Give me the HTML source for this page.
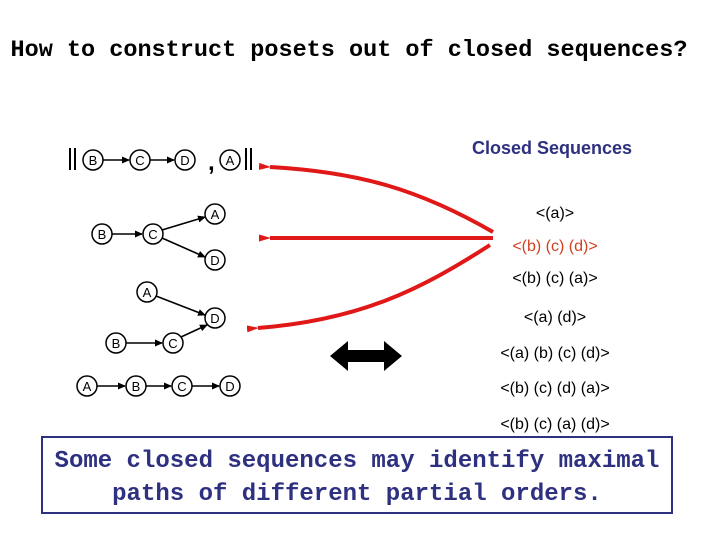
<!DOCTYPE html>
<html><head><meta charset="utf-8"><style>
html,body{margin:0;padding:0;background:#fff;}
svg{display:block}
</style></head><body>
<svg width="720" height="540" viewBox="0 0 720 540" xmlns="http://www.w3.org/2000/svg">
<defs>
<marker id="ab" markerWidth="8" markerHeight="8" refX="7" refY="4" orient="auto" markerUnits="userSpaceOnUse"><path d="M0,0.5 L8,4 L0,7.5z" fill="#000"/></marker>
<marker id="ar" markerWidth="12" markerHeight="8" refX="1" refY="4" orient="auto" markerUnits="userSpaceOnUse"><path d="M12,0.5 L0,4 L12,7.5z" fill="#e01818"/></marker>
</defs>
<text x="349" y="56" text-anchor="middle" font-family="Liberation Mono, monospace" font-weight="bold" font-size="23.5" fill="#000">How to construct posets out of closed sequences?</text>

<g font-family="Liberation Sans, sans-serif" font-size="13" text-anchor="middle" fill="#000">
<g stroke="#000" stroke-width="1.6" fill="none">
<line x1="103" y1="160" x2="129" y2="160" marker-end="url(#ab)"/>
<line x1="150" y1="160" x2="174" y2="160" marker-end="url(#ab)"/>
<line x1="112" y1="234" x2="142" y2="234" marker-end="url(#ab)"/>
<line x1="162" y1="230" x2="205" y2="217" marker-end="url(#ab)"/>
<line x1="162" y1="238" x2="205" y2="257" marker-end="url(#ab)"/>
<line x1="156" y1="296" x2="205" y2="315" marker-end="url(#ab)"/>
<line x1="126" y1="343" x2="162" y2="343" marker-end="url(#ab)"/>
<line x1="181" y1="337" x2="207" y2="325" marker-end="url(#ab)"/>
<line x1="97" y1="386" x2="125" y2="386" marker-end="url(#ab)"/>
<line x1="146" y1="386" x2="171" y2="386" marker-end="url(#ab)"/>
<line x1="192" y1="386" x2="219" y2="386" marker-end="url(#ab)"/>
</g>
<g stroke="#000" stroke-width="1.5" fill="#fff">
<circle cx="93" cy="160" r="10"/><circle cx="140" cy="160" r="10"/><circle cx="185" cy="160" r="10"/><circle cx="230" cy="160" r="10"/>
<circle cx="102" cy="234" r="10"/><circle cx="153" cy="234" r="10"/><circle cx="215" cy="214" r="10"/><circle cx="215" cy="260" r="10"/>
<circle cx="147" cy="292" r="10"/><circle cx="215" cy="318" r="10"/><circle cx="116" cy="343" r="10"/><circle cx="173" cy="343" r="10"/>
<circle cx="87" cy="386" r="10"/><circle cx="136" cy="386" r="10"/><circle cx="182" cy="386" r="10"/><circle cx="230" cy="386" r="10"/>
</g>
<text x="93" y="165">B</text><text x="140" y="165">C</text><text x="185" y="165">D</text><text x="230" y="165">A</text>
<text x="102" y="239">B</text><text x="153" y="239">C</text><text x="215" y="219">A</text><text x="215" y="265">D</text>
<text x="147" y="297">A</text><text x="215" y="323">D</text><text x="116" y="348">B</text><text x="173" y="348">C</text>
<text x="87" y="391">A</text><text x="136" y="391">B</text><text x="182" y="391">C</text><text x="230" y="391">D</text>
</g>
<g stroke="#000" stroke-width="2">
<line x1="70" y1="148" x2="70" y2="170"/><line x1="75" y1="148" x2="75" y2="170"/>
<line x1="246" y1="148" x2="246" y2="170"/><line x1="251" y1="148" x2="251" y2="170"/>
</g>
<text x="208" y="170" font-family="Liberation Sans, sans-serif" font-size="24" font-weight="bold">,</text>

<g stroke="#e01818" stroke-width="4" fill="none">
<path d="M493,232 C420,190 360,172 270,167" marker-end="url(#ar)"/>
<line x1="493" y1="238" x2="270" y2="238" marker-end="url(#ar)"/>
<path d="M490,245 C420,290 360,320 258,328" marker-end="url(#ar)"/>
</g>
<path d="M330,356 L348,341 L348,350 L384,350 L384,341 L402,356 L384,371 L384,362 L348,362 L348,371 Z" fill="#000"/>

<text x="552" y="154" text-anchor="middle" font-family="Liberation Sans, sans-serif" font-weight="bold" font-size="18" fill="#2e3080">Closed Sequences</text>
<g font-family="Liberation Sans, sans-serif" font-size="16" text-anchor="middle" fill="#000">
<text x="555" y="218">&lt;(a)&gt;</text>
<text x="555" y="251" fill="#d04020">&lt;(b) (c) (d)&gt;</text>
<text x="555" y="283">&lt;(b) (c) (a)&gt;</text>
<text x="555" y="322">&lt;(a) (d)&gt;</text>
<text x="555" y="358">&lt;(a) (b) (c) (d)&gt;</text>
<text x="555" y="393">&lt;(b) (c) (d) (a)&gt;</text>
<text x="555" y="429">&lt;(b) (c) (a) (d)&gt;</text>
</g>

<rect x="42" y="437" width="630" height="76" fill="#fff" stroke="#2e3080" stroke-width="2"/>
<g font-family="Liberation Mono, monospace" font-weight="bold" font-size="24" fill="#2e3080" text-anchor="middle">
<text x="357" y="467">Some closed sequences may identify maximal</text>
<text x="357" y="500">paths of different partial orders.</text>
</g>
</svg>
</body></html>
